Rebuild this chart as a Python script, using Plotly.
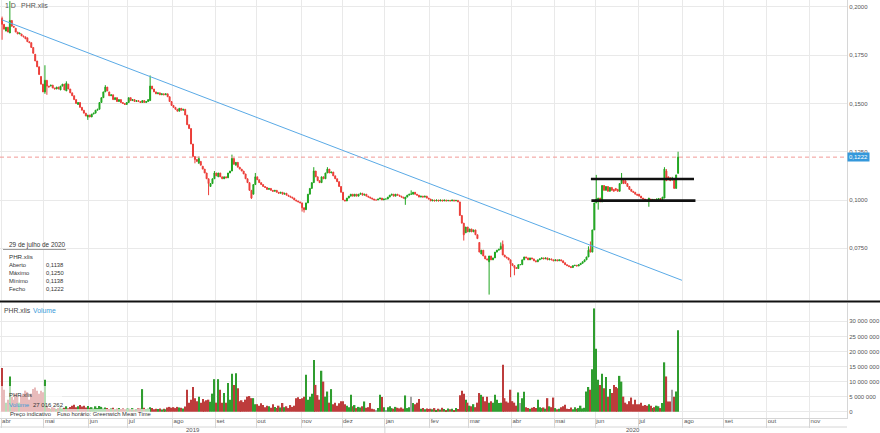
import pandas as pd
import plotly.graph_objects as go

# ---------------- data (prices in units of 0.0001, volume in millions) ----------------
o_1904 = [1940,1910,1875,1895,1865,1930,1900,1890,1870,1860,1860,1850,1845,1840,1820,1815,1790,1755,1720,1690,1640,1600]
c_1904 = [1910,1885,1895,1870,1930,1900,1895,1870,1860,1865,1850,1845,1835,1820,1815,1790,1760,1720,1690,1650,1600,1560]
v_1904 = [14.5,7.3,3.0,4.0,11.7,5.0,4.0,6.0,5.0,3.0,5.5,6.0,7.0,6.5,4.0,6.0,7.5,8.0,7.0,6.0,7.0,6.5]

o_1905 = [1560,1620,1590,1590,1595,1580,1575,1585,1570,1590,1600,1565,1600,1575,1555,1540,1520,1495,1505,1480,1465,1450,1430]
c_1905 = [1620,1590,1585,1595,1580,1575,1585,1575,1590,1600,1570,1605,1575,1555,1540,1520,1500,1505,1480,1465,1450,1435,1440]
v_1905 = [10.6,2.0,1.2,1.0,1.5,1.3,0.9,1.2,1.5,1.0,1.3,1.8,1.1,1.6,2.0,2.3,1.5,1.8,2.2,1.7,2.0,1.4,1.9]

o_1906 = [1440,1430,1445,1450,1465,1470,1505,1530,1560,1585,1560,1540,1545,1520,1530,1510,1520,1505,1500,1495]
c_1906 = [1430,1445,1450,1465,1470,1505,1530,1560,1585,1565,1540,1545,1520,1530,1510,1520,1505,1500,1495,1505]
v_1906 = [1.3,1.5,1.0,1.8,1.2,1.9,1.6,1.0,1.4,1.2,0.9,1.1,1.3,0.8,1.0,1.2,0.9,1.1,0.8,1.0]

o_1907 = [1505,1530,1515,1520,1510,1515,1510,1505,1515,1505,1510,1515,1590,1575,1560,1550,1555,1545,1550,1545,1550,1535,1510]
c_1907 = [1530,1515,1520,1510,1515,1510,1505,1515,1505,1510,1520,1590,1575,1560,1550,1555,1545,1550,1545,1550,1535,1510,1490]
v_1907 = [1.0,0.8,1.2,0.7,0.9,1.1,1.0,7.5,1.3,0.9,1.0,1.5,1.2,0.8,1.0,0.9,1.1,0.7,1.0,0.8,1.4,1.6,1.3]

o_1908 = [1490,1480,1470,1460,1475,1465,1470,1440,1390,1370,1290,1225,1210,1190,1200,1175,1160,1140,1110,1070,1085,1110]
c_1908 = [1480,1470,1460,1475,1465,1470,1440,1390,1370,1290,1225,1210,1200,1215,1180,1160,1140,1110,1085,1085,1110,1140]
v_1908 = [1.5,1.2,1.6,1.4,1.3,1.1,1.7,7.3,3.0,4.0,8.2,4.5,3.5,5.0,3.0,4.2,3.4,3.8,4.0,3.3,6.0,10.8]

o_1909 = [1140,1120,1140,1120,1110,1120,1115,1140,1150,1215,1180,1195,1170,1160,1150,1135,1110,1090,1050,1030,1080]
c_1909 = [1125,1140,1120,1110,1120,1115,1140,1150,1215,1185,1195,1170,1160,1150,1135,1110,1090,1050,1010,1080,1120]
v_1909 = [3.0,10.8,7.3,3.0,6.2,3.0,9.5,4.0,12.6,8.9,12.8,7.8,3.5,3.8,3.2,4.0,5.0,5.2,4.5,4.5,2.5]

o_1910 = [1120,1105,1090,1080,1070,1065,1055,1060,1050,1045,1050,1040,1035,1040,1030,1035,1025,1020,1015,1010,1000,995,990]
c_1910 = [1105,1090,1080,1070,1065,1055,1060,1050,1045,1050,1040,1035,1040,1030,1035,1025,1020,1015,1010,1000,995,990,985]
v_1910 = [2.5,2.0,2.8,2.2,1.5,2.0,1.8,1.3,2.5,1.6,1.2,2.0,1.4,2.9,1.5,1.8,1.2,2.2,1.6,2.0,4.5,4.8,4.2]

o_1911 = [985,960,950,985,1030,1060,1090,1150,1120,1100,1090,1120,1110,1140,1160,1140,1145,1125,1110,1095,1070]
c_1911 = [960,950,985,1030,1060,1090,1150,1120,1100,1090,1120,1110,1140,1160,1140,1145,1125,1110,1095,1070,1040]
v_1911 = [4.5,5.0,12.3,4.0,5.0,6.0,17.2,8.9,5.5,4.0,13.6,10.0,5.0,6.7,3.0,7.5,2.5,3.0,2.0,2.8,3.5]

o_1912 = [1040,1000,995,1010,1020,1030,1020,1030,1020,1030,1035,1025,1030,1020,1015,1010,1005,1000,1000,1005,1010,1000]
c_1912 = [1000,995,1010,1020,1030,1020,1030,1020,1030,1035,1025,1030,1020,1015,1010,1005,1000,1000,1005,1010,1000,1005]
v_1912 = [3.5,2.5,2.0,1.5,5.6,1.8,2.2,1.2,1.6,1.4,1.8,3.4,1.3,1.5,2.9,1.0,0.8,0.3,1.2,5.6,4.9,1.5]

o_2001 = [1005,1005,1015,1025,1030,1020,1030,1025,1020,1015,1005,1015,1025,1030,1030,1040,1030,1025,1015,1020,1015,1020,1010]
c_2001 = [1005,1015,1025,1030,1020,1030,1025,1020,1015,1010,1015,1025,1030,1030,1040,1030,1025,1015,1020,1015,1020,1010,1005]
v_2001 = [0.3,1.5,1.8,1.2,1.0,1.6,1.3,1.1,1.4,1.0,5.4,1.2,1.5,5.0,2.9,2.5,3.0,4.2,1.0,1.2,0.8,1.1,0.9]

o_2002 = [1005,995,1000,995,1000,995,1000,995,1000,995,998,995,1000,995,998,990,920,880,830,860]
c_2002 = [995,1000,995,1000,995,1000,995,1000,995,998,995,1000,995,998,990,920,880,820,860,835]
v_2002 = [1.0,0.8,1.2,0.6,1.0,0.7,1.3,0.9,0.5,1.1,0.8,1.0,0.6,1.2,0.9,5.5,7.0,6.0,4.0,3.0]

o_2003 = [835,850,835,845,820,780,720,740,710,695,680,710,690,700,730,740,745,770,715,705,700,690]
c_2003 = [850,835,845,820,800,730,740,710,695,690,710,690,700,730,740,745,760,715,705,700,690,670]
v_2003 = [2.0,1.8,2.5,1.5,3.0,6.2,5.6,5.0,3.5,5.0,3.0,3.5,3.0,5.6,4.0,2.9,3.0,15.6,4.5,3.4,3.0,7.3]

o_2004 = [670,660,650,645,665,665,690,705,700,690,700,695,685,680,690,695,700,695,700,690,695,690]
c_2004 = [660,650,645,665,665,690,705,700,690,700,695,685,680,690,695,700,695,700,690,695,690,685]
v_2004 = [3.5,3.0,2.0,6.4,2.9,4.5,6.6,1.5,1.2,1.0,1.3,1.6,1.2,4.0,1.5,1.2,1.4,1.0,4.5,1.8,1.5,4.7]

o_2005 = [685,690,685,690,685,675,665,660,655,650,660,662,658,665,672,680,690,705,745,730,845]
c_2005 = [690,685,690,685,675,665,660,655,650,660,662,658,665,672,680,690,705,740,730,845,985]
v_2005 = [1.2,0.8,1.0,1.5,1.8,2.3,1.0,0.9,1.4,0.8,1.5,1.0,1.2,2.0,1.1,1.3,6.7,8.2,7.3,14.1,34.3]

o_2006 = [985,995,1010,990,1075,1050,1070,1045,1065,1055,1060,1055,1045,1085,1105,1100,1085,1070,1055,1045,1040,1030]
c_2006 = [1005,1010,990,1075,1050,1070,1045,1065,1050,1045,1050,1045,1085,1105,1085,1085,1070,1055,1045,1040,1030,1025]
v_2006 = [20.9,10.6,8.9,12.6,7.8,11.5,5.0,7.5,6.2,8.9,8.2,7.8,11.9,10.0,5.0,3.0,2.5,3.5,4.7,2.5,4.0,2.5]

o_2007 = [1030,1020,1010,1005,1000,995,1005,1000,1003,1000,1000,1008,1003,1010,1150,1120,1115,1110,1110,1060,1138]
c_2007 = [1020,1010,1005,1000,998,1010,1000,1003,1000,1005,1008,1003,1015,1160,1100,1105,1100,1110,1060,1130,1222]
v_2007 = [2.5,3.0,2.0,2.2,2.0,2.5,2.0,1.2,1.5,2.0,1.8,1.2,2.9,16.4,11.7,3.4,3.4,7.3,5.0,6.7,27.016262]

# wick extremes (high, low) where the wick extends past the body
wicks = {
    "2019-04-01": (1950, 1830), "2019-04-05": (2030, None), "2019-05-01": (1698, 1550),
    "2019-05-02": (None, 1545), "2019-05-16": (1615, None), "2019-05-31": (None, 1415),
    "2019-06-13": (1595, None), "2019-07-16": (1645, None), "2019-08-16": (None, 1190),
    "2019-08-20": (1225, None), "2019-08-27": (None, 1025), "2019-08-30": (1150, None),
    "2019-09-12": (1235, None), "2019-09-26": (None, 1005), "2019-09-30": (1140, None),
    "2019-11-01": (None, 940), "2019-11-04": (None, 935), "2019-11-11": (1170, None),
    "2019-11-20": (1170, None), "2020-01-15": (None, 975), "2020-01-20": (1050, None),
    "2020-02-26": (None, 790), "2020-03-16": (None, 510), "2020-03-24": (780, None),
    "2020-03-25": (790, None), "2020-03-31": (None, 600), "2020-04-02": (None, 610),
    "2020-05-26": (760, None), "2020-05-27": (785, None), "2020-06-01": (1130, None),
    "2020-06-02": (None, 950), "2020-06-18": (1140, None), "2020-07-08": (None, 965),
    "2020-07-20": (1170, None), "2020-07-21": (1160, None), "2020-07-24": (1120, 1100),
    "2020-07-29": (1250, 1138),
}

months = [
    ("2019-04-01", "2019-04-30", o_1904, c_1904, v_1904),
    ("2019-05-01", "2019-05-31", o_1905, c_1905, v_1905),
    ("2019-06-01", "2019-06-30", o_1906, c_1906, v_1906),
    ("2019-07-01", "2019-07-31", o_1907, c_1907, v_1907),
    ("2019-08-01", "2019-08-31", o_1908, c_1908, v_1908),
    ("2019-09-01", "2019-09-30", o_1909, c_1909, v_1909),
    ("2019-10-01", "2019-10-31", o_1910, c_1910, v_1910),
    ("2019-11-01", "2019-11-30", o_1911, c_1911, v_1911),
    ("2019-12-01", "2019-12-31", o_1912, c_1912, v_1912),
    ("2020-01-01", "2020-01-31", o_2001, c_2001, v_2001),
    ("2020-02-01", "2020-02-29", o_2002, c_2002, v_2002),
    ("2020-03-01", "2020-03-31", o_2003, c_2003, v_2003),
    ("2020-04-01", "2020-04-30", o_2004, c_2004, v_2004),
    ("2020-05-01", "2020-05-31", o_2005, c_2005, v_2005),
    ("2020-06-01", "2020-06-30", o_2006, c_2006, v_2006),
    ("2020-07-01", "2020-07-29", o_2007, c_2007, v_2007),
]

trend_dates = ["2019-04-01 12:00", "2020-07-31 12:00"]
trend_vals = [0.1933, 0.0584]
res_dates = ["2020-05-27 18:00", "2020-08-10 16:00"]
res_vals = [0.1109, 0.1109]
sup_dates = ["2020-05-28 00:00", "2020-08-11 10:00"]
sup_vals = [0.0997, 0.0997]

month_labels = ["abr", "mai", "jun", "jul", "ago", "set", "out", "nov", "dez", "jan",
                "fev", "mar", "abr", "mai", "jun", "jul", "ago", "set", "out", "nov"]
price_ticks = [0.075, 0.100, 0.125, 0.150, 0.175, 0.200]
vol_ticks = [0, 5e6, 10e6, 15e6, 20e6, 25e6, 30e6]

# ---------------- assemble ----------------
dates, O, H, L, C, V = [], [], [], [], [], []
for start, end, o, c, v in months:
    days = pd.bdate_range(start, end)
    n = min(len(days), len(o), len(c), len(v))
    for i in range(n):
        d = days[i]
        key = d.strftime("%Y-%m-%d")
        hi, lo = wicks.get(key, (None, None))
        op, cl = o[i], c[i]
        h = max(op, cl) if hi is None else max(op, cl, hi)
        l = min(op, cl) if lo is None else min(op, cl, lo)
        dates.append(d + pd.Timedelta(hours=12))
        O.append(op / 1e4); C.append(cl / 1e4); H.append(h / 1e4); L.append(l / 1e4)
        V.append(round(v[i] * 1e6))

GREEN = "#1fa51f"
RED = "#ec3d38"
VGREEN = "#2f9d2f"
VRED = "#bd3c3c"
VGRAY = "#a3a3a3"
BLUE = "#5aaae6"
GRID = "#e9e9e9"
LINE = "#d6d6d6"
TXT = "#555555"
FONT = "Liberation Sans, Arial, sans-serif"

vcol = [VGREEN if c > o else (VRED if c < o else VGRAY) for o, c in zip(O, C)]

fig = go.Figure()
fig.add_trace(go.Candlestick(
    x=dates, open=O, high=H, low=L, close=C,
    increasing=dict(line=dict(color=GREEN, width=1), fillcolor=GREEN),
    decreasing=dict(line=dict(color=RED, width=1), fillcolor=RED),
    whiskerwidth=0, showlegend=False, hoverinfo="skip", xaxis="x", yaxis="y"))
fig.add_trace(go.Bar(
    x=dates, y=V, marker=dict(color=vcol, line=dict(width=0)),
    xaxis="x", yaxis="y2", showlegend=False, hoverinfo="skip"))
fig.add_trace(go.Scatter(x=trend_dates, y=trend_vals, mode="lines",
                         line=dict(color=BLUE, width=1), showlegend=False, hoverinfo="skip"))
fig.add_trace(go.Scatter(x=res_dates, y=res_vals, mode="lines",
                         line=dict(color="#111111", width=2.6), showlegend=False, hoverinfo="skip"))
fig.add_trace(go.Scatter(x=sup_dates, y=sup_vals, mode="lines",
                         line=dict(color="#111111", width=2.6), showlegend=False, hoverinfo="skip"))

PW, PH = 847.0, 418.0
def px(x):
    return x / PW
def py(y):
    return (PH - y) / PH

tick_dates = list(pd.date_range("2019-04-01", "2020-11-30", freq="BMS"))

def fmt_p(v):
    return f"{v:.4f}".replace(".", ",")

ann = []
def text(x, y, s, size=6, color=TXT, anchor="left", **kw):
    ann.append(dict(x=px(x), y=py(y), xref="paper", yref="paper", text=s, showarrow=False,
                    xanchor=anchor, yanchor="middle", font=dict(size=size, color=color, family=FONT), **kw))

text(3, 6, "1 D", size=7)
text(19, 6, "PHR.xlis", size=7)
text(7, 244.5, "29 de julho de 2020", size=6.4, color="#333")
text(7, 256, "PHR.xlis", size=6.2, color="#333")
rows = [("Aberto", O[-1]), ("Máximo", H[-1]), ("Mínimo", L[-1]), ("Fecho", C[-1])]
for i, (lab, val) in enumerate(rows):
    yy = 264.5 + i * 8.1
    text(7, yy, lab, size=5.8, color="#333")
    text(44, yy, fmt_p(val), size=5.8, color="#333")
text(2, 310, "PHR.xlis", size=6.8, color="#444")
text(31, 310, "Volume", size=6.8, color="#3a9ad9")
text(7, 394.5, "PHR.xlis", size=6, color="#333")
text(7, 404.5, "Volume", size=6, color="#3a9ad9")
text(31, 404.5, f"{V[-1]:,}".replace(",", " "), size=6, color="#333")
text(8, 414, "Preço indicativo", size=5.8, color="#333")
text(55, 414, "Fuso horário: Greenwich Mean Time", size=5.8, color="#333")
text(193, 430, "2019", size=6, anchor="center")
text(633, 430, "2020", size=6, anchor="center")
# last price tag
ann.append(dict(x=1, y=C[-1], xref="paper", yref="y", text=fmt_p(C[-1]), showarrow=False,
                xanchor="left", yanchor="middle", bgcolor="#3498db", borderpad=1,
                font=dict(size=6, color="white", family=FONT)))

shapes = [
    # panel separator
    dict(type="line", xref="paper", yref="paper", x0=0, x1=880 / PW, y0=py(301.5), y1=py(301.5),
         line=dict(color="#111111", width=2)),
    # last price dashed line
    dict(type="line", xref="paper", yref="y", x0=0, x1=1, y0=C[-1], y1=C[-1],
         line=dict(color="#f19a96", width=1, dash="4px,3px")),
    # legend fade boxes on volume panel
    dict(type="rect", xref="paper", yref="paper", x0=0, x1=px(62), y0=py(418), y1=py(386),
         fillcolor="rgba(255,255,255,0.65)", line=dict(width=0), layer="above"),
    dict(type="rect", xref="paper", yref="paper", x0=px(62), x1=px(150), y0=py(418), y1=py(409),
         fillcolor="rgba(255,255,255,0.65)", line=dict(width=0), layer="above"),
    # underline of legend date
    dict(type="line", xref="paper", yref="paper", x0=px(3), x1=px(66), y0=py(249.5), y1=py(249.5),
         line=dict(color="#9a9a9a", width=1)),
    # separator between month row and year row
    dict(type="line", xref="paper", yref="paper", x0=0, x1=1, y0=py(427), y1=py(427),
         line=dict(color=LINE, width=1)),
    dict(type="line", xref="x", yref="paper", x0=tick_dates[9], x1=tick_dates[9], y0=py(427), y1=py(433),
         line=dict(color=LINE, width=1)),
]

fig.update_layout(
    width=880, height=433,
    margin=dict(l=0, r=33, t=0, b=15),
    paper_bgcolor="white", plot_bgcolor="white",
    font=dict(family=FONT, size=6, color=TXT),
    hovermode=False, showlegend=False, bargap=0.25,
    xaxis=dict(type="date", range=["2019-03-29 10:30", "2020-11-27 05:00"],
               rangebreaks=[dict(bounds=["sat", "mon"])],
               rangeslider=dict(visible=False), anchor="y2",
               tickmode="array", tickvals=tick_dates, ticktext=month_labels,
               showgrid=True, gridcolor=GRID, gridwidth=1,
               ticks="outside", ticklen=9, tickcolor=LINE, tickwidth=1,
               ticklabelposition="outside right", ticklabelstandoff=-3,
               tickfont=dict(size=6, color=TXT),
               showline=True, linecolor=LINE, linewidth=1, zeroline=False),
    yaxis=dict(domain=[py(300), 1], range=[0.0482, 0.2036], side="right", anchor="x",
               tickmode="array", tickvals=price_ticks, ticktext=[fmt_p(t) for t in price_ticks],
               showgrid=True, gridcolor=GRID, ticks="", tickfont=dict(size=6, color=TXT),
               showline=True, linecolor=LINE, zeroline=False),
    yaxis2=dict(domain=[0, py(303)], range=[-2.09e6, 36.1e6], side="right", anchor="x",
                tickmode="array", tickvals=vol_ticks,
                ticktext=[f"{int(t):,}".replace(",", " ") for t in vol_ticks],
                showgrid=True, gridcolor=GRID, ticks="", tickfont=dict(size=6, color=TXT),
                showline=True, linecolor=LINE, zeroline=False),
    annotations=ann, shapes=shapes,
)

fig.write_html("out.html", config={"displayModeBar": False},
               post_script="document.body.style.margin='0';document.body.style.overflow='hidden';")
